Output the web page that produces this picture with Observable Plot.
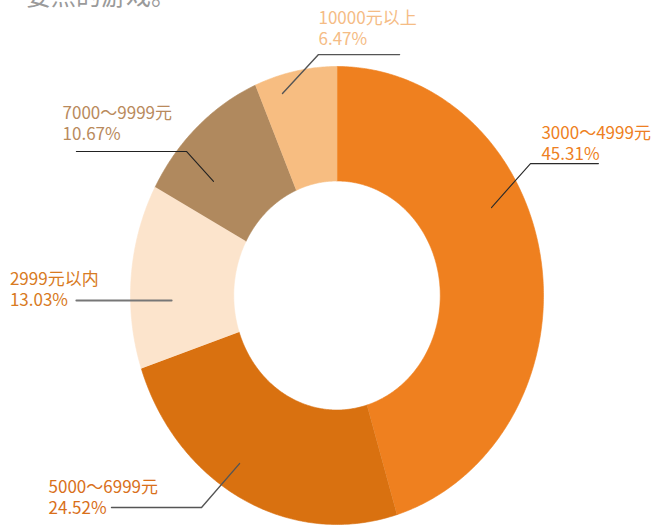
<!DOCTYPE html>
<html><head><meta charset="utf-8">
<script src="https://cdn.jsdelivr.net/npm/d3@7"></script>
<script src="https://cdn.jsdelivr.net/npm/@observablehq/plot@0.6"></script>
<style>
body{margin:0;background:#fff;position:relative;overflow:hidden;width:654px;height:529px}
svg{display:block}
#headline{position:absolute;left:26px;top:-18px;font:25px/25px "Noto Sans CJK SC",sans-serif;color:#9a9a9a;white-space:nowrap}
</style>
</head><body>
<div id="chart"></div>
<div id="headline"></div>
<script>
// ---- data ----
const categories = ["3000～4999元", "5000～6999元", "2999元以内", "7000～9999元", "10000元以上"];
const shares = [45.31, 24.52, 13.03, 10.67, 6.47];
const shareLabels = ["45.31%", "24.52%", "13.03%", "10.67%", "6.47%"];
const headline = "要点的游戏。";

// ---- styles ----
const sliceColors = ["#EF801F", "#D97110", "#FCE4CC", "#B0895E", "#F7BD81"];
const labelColors = ["#EE7F22", "#D9701A", "#D87A22", "#B98A5C", "#F5BC85"];
const innerRadius = 0.5;
const fontFamily = '"Noto Sans CJK SC", "Noto Sans", sans-serif';

// ---- annotation layout (in the chart's normalized x/y units) ----
const labelPos = [
  [0.990, 0.592],   // 3000~4999
  [-1.397, -0.956], // 5000~6999
  [-1.584, -0.048], // 2999以内
  [-1.329, 0.677],  // 7000~9999
  [-0.0896, 1.094]  // 10000以上
];
const leaderPaths = [
  [[0.748, 0.384], [0.937, 0.576], [1.266, 0.576]],
  [[-0.472, -0.734], [-0.656, -0.926], [-1.092, -0.926]],
  [[-0.801, -0.022], [-1.262, -0.022]],
  [[-0.598, 0.498], [-0.729, 0.629], [-1.262, 0.629]],
  [[-0.264, 0.882], [-0.0896, 1.052], [0.303, 1.052]]
];
const leaderStyle = [
  {stroke: "#2a2a2a", w: 1.1},
  {stroke: "#555", w: 1.4},
  {stroke: "#777", w: 2},
  {stroke: "#222", w: 1.1},
  {stroke: "#555", w: 1.4}
];

// ---- build slice polygons from the pie layout ----
const arcs = d3.pie().sort(null).value(d => d)(shares);
const slicePts = [];
arcs.forEach((a, i) => {
  const n = Math.max(8, Math.ceil((a.endAngle - a.startAngle) / 0.01));
  for (let k = 0; k <= n; k++) {
    const t = a.startAngle + (a.endAngle - a.startAngle) * k / n;
    slicePts.push({name: categories[i], x: Math.sin(t), y: Math.cos(t)});
  }
  for (let k = n; k >= 0; k--) {
    const t = a.startAngle + (a.endAngle - a.startAngle) * k / n;
    slicePts.push({name: categories[i], x: innerRadius * Math.sin(t), y: innerRadius * Math.cos(t)});
  }
});

const marks = [
  Plot.line(slicePts, {x: "x", y: "y", z: "name", fill: "name", stroke: "name", strokeWidth: 0.6})
];
categories.forEach((c, i) => {
  marks.push(Plot.line(leaderPaths[i].map(([x, y]) => ({x, y})), {
    x: "x", y: "y", stroke: leaderStyle[i].stroke, strokeWidth: leaderStyle[i].w
  }));
  marks.push(Plot.text([{x: labelPos[i][0], y: labelPos[i][1], t: c + "\n" + shareLabels[i]}], {
    x: "x", y: "y", text: "t", fill: labelColors[i], textAnchor: "start", lineAnchor: "bottom",
    lineHeight: 1.24, fontSize: 17, fontFamily
  }));
});

const chart = Plot.plot({
  width: 654, height: 529,
  marginLeft: 130, marginRight: 111, marginTop: 66, marginBottom: 5,
  x: {domain: [-1, 1], axis: null},
  y: {domain: [-1, 1], axis: null},
  color: {domain: categories, range: sliceColors},
  style: {background: "white", fontFamily},
  marks
});
document.getElementById("chart").append(chart);
document.getElementById("headline").textContent = headline;
</script>
</body></html>
